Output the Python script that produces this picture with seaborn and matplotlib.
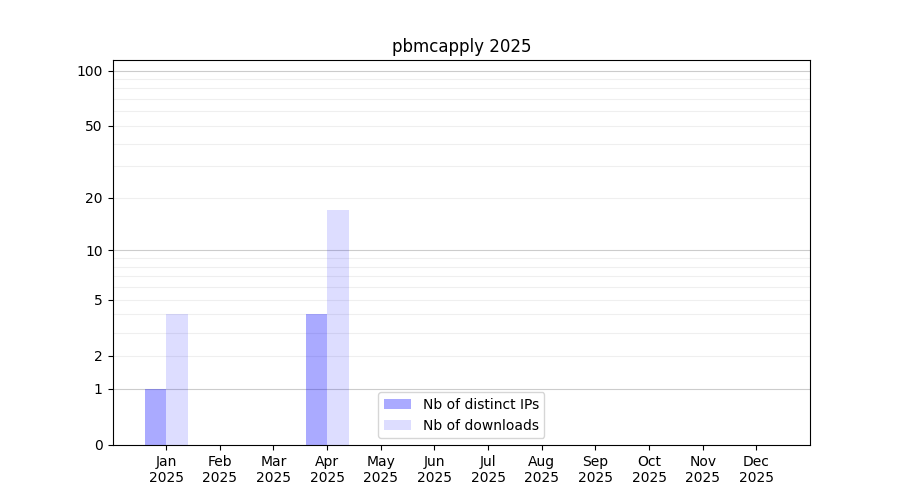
import matplotlib
matplotlib.use("Agg")
import matplotlib.pyplot as plt
from matplotlib.colors import to_rgba
import seaborn as sns
import pandas as pd
import numpy as np

months = ["Jan", "Feb", "Mar", "Apr", "May", "Jun",
          "Jul", "Aug", "Sep", "Oct", "Nov", "Dec"]
year = "2025"
distinct_ips = [1, 0, 0, 4, 0, 0, 0, 0, 0, 0, 0, 0]
downloads = [4, 0, 0, 17, 0, 0, 0, 0, 0, 0, 0, 0]
series_names = ["Nb of distinct IPs", "Nb of downloads"]
series_alpha = [1 / 3, 0.135]

major_ticks = [0, 1, 2, 5, 10, 20, 50, 100]
minor_ticks = [3, 4, 6, 7, 8, 9, 30, 40, 60, 70, 80, 90]


def forward(x):
    return np.log10(1 + np.clip(x, 0, None))


def inverse(y):
    return 10 ** y - 1


df = pd.DataFrame({
    "month": months * 2,
    "value": distinct_ips + downloads,
    "series": [series_names[0]] * 12 + [series_names[1]] * 12,
})

fig, ax = plt.subplots(figsize=(9, 5), dpi=100)
sns.barplot(data=df, x="month", y="value", hue="series", ax=ax,
            palette=["blue", "blue"], saturation=1, legend=False)

# per-series transparency, like the original chart
for container, a in zip(ax.containers, series_alpha):
    for p in container.patches:
        p.set_facecolor(to_rgba("blue", a))
        p.set_edgecolor("none")
    container.set_label(None)

ax.set_yscale("function", functions=(forward, inverse))
ax.set_ylim(0, 114)
ax.set_xlim(-1, 12)
ax.set_yticks(major_ticks)
ax.set_yticklabels([str(t) for t in major_ticks])
ax.set_yticks(minor_ticks, minor=True)
ax.tick_params(axis="y", which="minor", length=0)
ax.set_xticks(range(12))
ax.set_xticklabels([f"{m}\n{year}" for m in months])

ax.grid(False)
for t in [1, 10, 100]:
    ax.axhline(t, color="#cccccc", lw=0.8, zorder=0.5)
for t in [2, 5, 20, 50] + minor_ticks:
    ax.axhline(t, color="#efefef", lw=0.8, zorder=0.5)

ax.set_xlabel("")
ax.set_ylabel("")
ax.set_title(f"pbmcapply {year}")
handles = [c.patches[0] for c in ax.containers]
ax.legend(handles, series_names, loc="lower center")

plt.savefig("out.png", dpi=100)
plt.close()
